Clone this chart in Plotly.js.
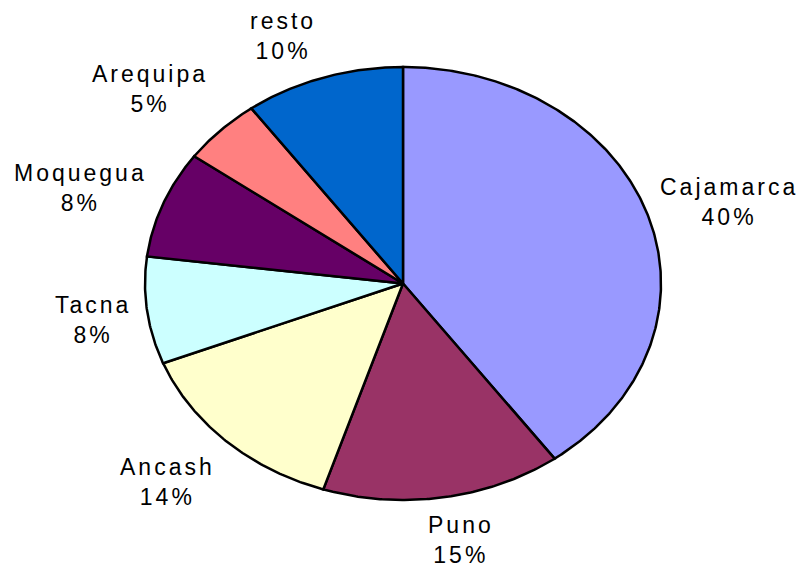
<!DOCTYPE html>
<html>
<head>
<meta charset="utf-8">
<script src="https://cdn.plot.ly/plotly-3.0.1.min.js"></script>
<style>
  html, body { margin: 0; padding: 0; background: #ffffff; }
  #chart { width: 803px; height: 570px; }
  .annotation-text { letter-spacing: 3px; }
</style>
</head>
<body>
<div id="chart"></div>
<script>
// ---- data ----
const categories = ['Cajamarca', 'Puno', 'Ancash', 'Tacna', 'Moquegua', 'Arequipa', 'resto'];
const values = [40, 15, 14, 8, 8, 5, 10];

// ---- styles ----
const sliceColors = ['#9999FF', '#993366', '#FFFFCC', '#CCFFFF', '#660066', '#FF8080', '#0066CC'];
// small label nudges in pixels (dx right, dy down)
const labelNudgeX = [19, 8, -15, 10, -23, -25, -20];
const labelNudgeY = [2, -11, 1, 3, 4, -3, 10];

const total = values.reduce((a, b) => a + b, 0);
const traces = [];
const annotations = [];
let cum = 0;
values.forEach((v, i) => {
  const a0 = cum / total * 2 * Math.PI;
  const a1 = (cum + v) / total * 2 * Math.PI;
  const xs = [0], ys = [0];
  const steps = Math.max(4, Math.ceil((a1 - a0) / (Math.PI / 360)));
  for (let s = 0; s <= steps; s++) {
    const t = a0 + (a1 - a0) * s / steps;
    xs.push(Math.sin(t));
    ys.push(Math.cos(t));
  }
  xs.push(0); ys.push(0);
  traces.push({
    type: 'scatter', mode: 'lines', x: xs, y: ys,
    fill: 'toself', fillcolor: sliceColors[i],
    line: { color: '#000000', width: 2.5 },
    hoverinfo: 'skip', showlegend: false
  });
  const mid = (a0 + a1) / 2;
  const k = 1.25;
  annotations.push({
    x: k * Math.sin(mid), y: k * Math.cos(mid), xref: 'x', yref: 'y',
    text: categories[i] + '<br>' + Math.round(v / total * 100) + '%',
    showarrow: false, xanchor: 'center', yanchor: 'middle', align: 'center',
    xshift: labelNudgeX[i], yshift: -labelNudgeY[i],
    font: { family: 'Liberation Sans, Arial, sans-serif', size: 23, color: '#000000' }
  });
  cum += v;
});

const W = 803, H = 570, cx = 403, cy = 283.5, rx = 258, ry = 216.5;
const layout = {
  width: W, height: H,
  margin: { l: 0, r: 0, t: 0, b: 0 },
  paper_bgcolor: '#ffffff', plot_bgcolor: '#ffffff',
  showlegend: false,
  xaxis: { range: [-cx / rx, (W - cx) / rx], visible: false, fixedrange: true },
  yaxis: { range: [-(H - cy) / ry, cy / ry], visible: false, fixedrange: true },
  annotations: annotations
};
Plotly.newPlot('chart', traces, layout, { staticPlot: true, displayModeBar: false });
</script>
</body>
</html>
